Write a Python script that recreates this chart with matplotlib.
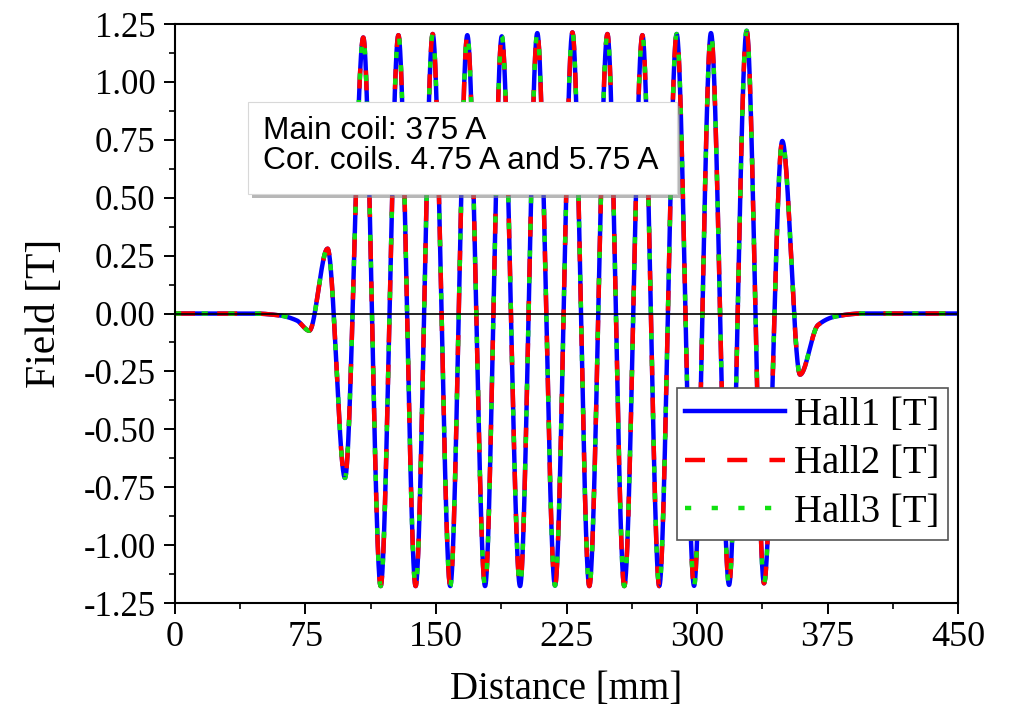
import numpy as np
import matplotlib
matplotlib.use("Agg")
import matplotlib.pyplot as plt
import matplotlib.patheffects as pe
from matplotlib.patches import Rectangle
from matplotlib.ticker import MultipleLocator

# field profile: turning points (mm, T)
dist = [0, 45, 60, 70, 77.2, 87.7, 97.7, 108.2, 118.2, 128.4, 138.3, 148.1, 158.2,
        168.0, 178.2, 187.8, 198.3, 208.2, 218.4, 228.4, 238.1, 248.5, 258.2,
        268.6, 278.3, 288.3, 298.3, 308.0, 318.4, 328.5, 338.5, 349.0, 359.2,
        369.5, 380, 395, 450]
hall1 = [0, 0, -0.008, -0.03, -0.074, 0.28, -0.71, 1.192, -1.177, 1.202, -1.177,
         1.207, -1.177, 1.202, -1.177, 1.197, -1.177, 1.211, -1.175, 1.214,
         -1.177, 1.207, -1.177, 1.202, -1.177, 1.207, -1.176, 1.211, -1.172,
         1.221, -1.165, 0.745, -0.264, -0.05, -0.012, 0, 0]
# the three probes sit on top of each other
hall2 = list(hall1)
hall3 = list(hall1)

labels = ["Hall1 [T]", "Hall2 [T]", "Hall3 [T]"]
note = ["Main coil: 375 A", "Cor. coils. 4.75 A and 5.75 A"]


def smooth(xk, yk, xs):
    # monotone cubic through the turning points (pchip)
    xk = np.asarray(xk, float)
    yk = np.asarray(yk, float)
    h = np.diff(xk)
    d = np.diff(yk) / h
    m = np.zeros_like(yk)
    for k in range(1, len(xk) - 1):
        if d[k-1] * d[k] > 0:
            w1 = 2*h[k] + h[k-1]
            w2 = h[k] + 2*h[k-1]
            m[k] = (w1 + w2) / (w1/d[k-1] + w2/d[k])
    i = np.clip(np.searchsorted(xk, xs) - 1, 0, len(h) - 1)
    t = (xs - xk[i]) / h[i]
    return ((2*t**3 - 3*t**2 + 1)*yk[i] + (t**3 - 2*t**2 + t)*h[i]*m[i]
            + (-2*t**3 + 3*t**2)*yk[i+1] + (t**3 - t**2)*h[i]*m[i+1])


serif = "Liberation Serif"
sans = "Liberation Sans"

fig = plt.figure(figsize=(10.09, 7.07), dpi=100)
ax = fig.add_axes([0.1734, 0.1471, 0.7761, 0.8189])

xs = np.linspace(0, 450, 4000)
ax.plot(xs, smooth(dist, hall1, xs), color="#0000ff", lw=3.2, label=labels[0], zorder=2)
ax.plot(xs, smooth(dist, hall2, xs), color="#ff0000", lw=3.2, label=labels[1],
        dashes=(4.5, 5), dash_capstyle="butt", zorder=2.1)
ax.plot(xs, smooth(dist, hall3, xs), color="#10e010", lw=3.2, label=labels[2],
        dashes=(1.4, 4.6), dash_capstyle="butt", zorder=2.2)
ax.axhline(0, color="black", lw=1.2, zorder=3)

ax.set_xlim(0, 450)
ax.set_ylim(-1.25, 1.25)
ax.xaxis.set_major_locator(MultipleLocator(75))
ax.xaxis.set_minor_locator(MultipleLocator(37.5))
ax.yaxis.set_major_locator(MultipleLocator(0.25))
ax.yaxis.set_minor_locator(MultipleLocator(0.125))
ax.yaxis.set_major_formatter(matplotlib.ticker.FormatStrFormatter("%.2f"))
ax.tick_params(which="major", direction="out", length=8, width=1.4)
ax.tick_params(which="minor", direction="out", length=4.5, width=1.2)
ax.tick_params(axis="y", which="major", pad=6)
ax.tick_params(axis="x", which="major", pad=5)
for lab in ax.get_yticklabels():
    lab.set_fontfamily(serif)
    lab.set_fontsize(25)
for lab in ax.get_xticklabels():
    lab.set_fontfamily(serif)
    lab.set_fontsize(26)
for s in ax.spines.values():
    s.set_linewidth(1.5)

ax.set_xlabel("Distance [mm]", fontfamily=serif, fontsize=28, labelpad=12)
ax.set_ylabel("Field [T]", fontfamily=serif, fontsize=30, labelpad=14)

# note box that hides the curves behind it
box = Rectangle((42, 0.515), 246.5, 0.398, facecolor="white", edgecolor="#d8d8d8",
                lw=0.8, zorder=4)
box.set_path_effects([pe.withSimplePatchShadow(offset=(2.5, -2.5),
                                               shadow_rgbFace="#888888", alpha=0.6)])
ax.add_patch(box)
ax.text(50.6, 0.755, note[0], fontfamily=sans, fontsize=22.8, va="baseline", zorder=5)
ax.text(50.6, 0.625, note[1], fontfamily=sans, fontsize=22.8, va="baseline", zorder=5)

leg = ax.legend(loc="upper left", bbox_to_anchor=(0.641, 0.371), borderaxespad=0,
                prop={"family": serif, "size": 28}, fancybox=False, framealpha=1,
                edgecolor="#555555", handlelength=2.55, handletextpad=0.25,
                labelspacing=0.3, borderpad=0.22)
leg.get_frame().set_linewidth(1.2)

fig.savefig("out.png", dpi=100)
